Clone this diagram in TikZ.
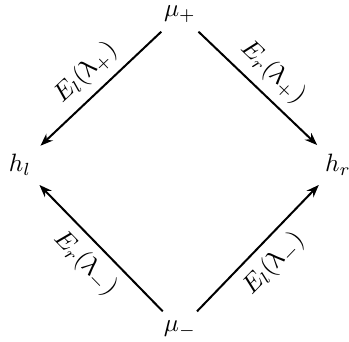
\documentclass[tikz,border=0pt]{standalone}
\usepackage{amsmath, amssymb}
\usepackage{upgreek}
\usepackage{tikz}
\usetikzlibrary{arrows.meta, positioning, calc}

\begin{document}
\begin{tikzpicture}[>={Stealth[length=5pt]}, thick, x=0.014cm, y=-0.014cm]
        \useasboundingbox (0,0) rectangle (349,341);
        % Vertices
        \node (mup) at (180,14) {$\mu_+$};
        \node (hl) at (20,165) {$h_l$};
        \node (hr) at (338,165) {$h_r$};
        \node (mum) at (180,329) {$\mu_-$};
        
        % Upper arrows
        \draw [->] (mup) -- (hl) node[midway, above, sloped] {$E_l(\uplambda_+)$};
        \draw [->] (mup) -- (hr) node[midway, above, sloped] {$E_r(\uplambda_+)$};
        
        % Lower arrows
        \draw [->] (mum) -- (hl) node[midway, below, sloped] {$E_r(\uplambda_-)$};
        \draw [->] (mum) -- (hr) node[midway, below, sloped] {$E_l(\uplambda_-)$};
    \end{tikzpicture}
\end{document}
